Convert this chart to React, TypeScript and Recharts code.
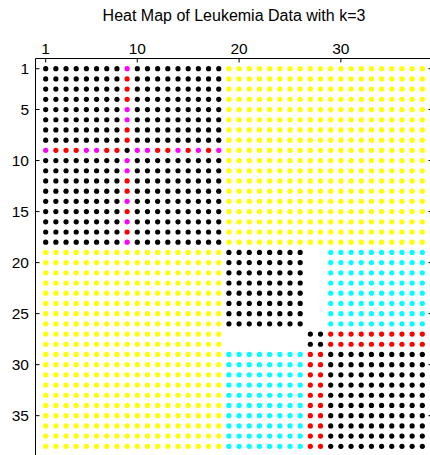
import { ScatterChart, Scatter, XAxis, YAxis } from 'recharts';

// samples are ordered by cluster; sizes of the consecutive groups
const groupSizes = [18, 8, 2, 10];

// colour code of each pair of groups ('' = no mark)
const blockColors = [
  ['k', 'y', 'y', 'y'],
  ['y', 'k', '', 'c'],
  ['y', '', 'k', 'r'],
  ['y', 'c', 'r', 'k'],
];

// sample 9 is split from the rest of its group
const oddSample = 9;
const oddSampleRow = ['m', 'r', 'r', 'r', 'm', 'm', 'r', 'r', 'k', 'm', 'm', 'r', 'r', 'm', 'r', 'm', 'r', 'm'];

const colorKeys = ['k', 'y', 'c', 'r', 'm'];
const palette: Record<string, string> = {
  k: '#000000',
  y: '#ffff00',
  c: '#00ffff',
  r: '#ff0000',
  m: '#ff00ff',
};

const xTicks = [1, 10, 20, 30];
const yTicks = [1, 5, 10, 15, 20, 25, 30, 35];

const groupOf: number[] = [];
groupSizes.forEach((size, g) => {
  for (let i = 0; i < size; i++) groupOf.push(g);
});
const n = groupOf.length;

function cellColor(row: number, col: number) {
  if (row === oddSample && groupOf[col - 1] === 0) return oddSampleRow[col - 1];
  if (col === oddSample && groupOf[row - 1] === 0) return oddSampleRow[row - 1];
  return blockColors[groupOf[row - 1]][groupOf[col - 1]];
}

const series: Record<string, { x: number; y: number }[]> = {};
colorKeys.forEach((k) => (series[k] = []));
for (let row = 1; row <= n; row++) {
  for (let col = 1; col <= n; col++) {
    const c = cellColor(row, col);
    if (c) series[c].push({ x: col, y: row });
  }
}

const font = '"Liberation Sans", Arial, Helvetica, sans-serif';
const noLabel = () => <g />;

const TopTick = (p: any) => (
  <text x={p.x} y={p.y} textAnchor="middle" fill="#000" fontSize={15.5} fontFamily={font}>
    {p.payload.value}
  </text>
);

const LeftTick = (p: any) => (
  <text x={p.x} y={p.y} dy="0.36em" textAnchor="end" fill="#000" fontSize={15.5} fontFamily={font}>
    {p.payload.value}
  </text>
);

export default function App() {
  return (
    <div
      style={{
        position: 'absolute',
        left: 0,
        top: 0,
        width: 430,
        height: 455,
        overflow: 'hidden',
        background: '#fff',
      }}
    >
      <div
        style={{
          position: 'absolute',
          left: 35.5,
          width: 397,
          top: 7.5,
          lineHeight: '16px',
          fontSize: 16,
          fontFamily: font,
          textAlign: 'center',
          color: '#000',
        }}
      >
        Heat Map of Leukemia Data with k=3
      </div>
      <ScatterChart
        width={442.5}
        height={466.5}
        margin={{ top: 0, right: 0, bottom: 0, left: 0 }}
      >
        <XAxis
          xAxisId="top"
          type="number"
          dataKey="x"
          orientation="top"
          domain={[0, 39]}
          allowDataOverflow
          ticks={xTicks}
          interval={0}
          height={58.5}
          tickSize={-4}
          tickMargin={8.5}
          axisLine={{ stroke: '#000' }}
          tickLine={{ stroke: '#000' }}
          tick={TopTick}
        />
        <XAxis
          xAxisId="bottom"
          type="number"
          orientation="bottom"
          domain={[0, 39]}
          allowDataOverflow
          ticks={xTicks}
          interval={0}
          height={10}
          tickSize={-4}
          axisLine={{ stroke: '#000' }}
          tickLine={{ stroke: '#000' }}
          tick={noLabel}
        />
        <YAxis
          yAxisId="left"
          type="number"
          dataKey="y"
          reversed
          domain={[0, 39]}
          allowDataOverflow
          ticks={yTicks}
          interval={0}
          width={35.5}
          tickSize={-4}
          tickMargin={10.5}
          axisLine={{ stroke: '#000' }}
          tickLine={{ stroke: '#000' }}
          tick={LeftTick}
        />
        <YAxis
          yAxisId="right"
          type="number"
          orientation="right"
          reversed
          domain={[0, 39]}
          allowDataOverflow
          ticks={yTicks}
          interval={0}
          width={10}
          tickSize={-4}
          axisLine={{ stroke: '#000' }}
          tickLine={{ stroke: '#000' }}
          tick={noLabel}
        />
        {colorKeys.map((k) => (
          <Scatter
            key={k}
            xAxisId="top"
            yAxisId="left"
            data={series[k]}
            fill={palette[k]}
            isAnimationActive={false}
            shape={(p: any) => <circle cx={p.cx} cy={p.cy} r={2.6} fill={palette[k]} />}
          />
        ))}
      </ScatterChart>
    </div>
  );
}
